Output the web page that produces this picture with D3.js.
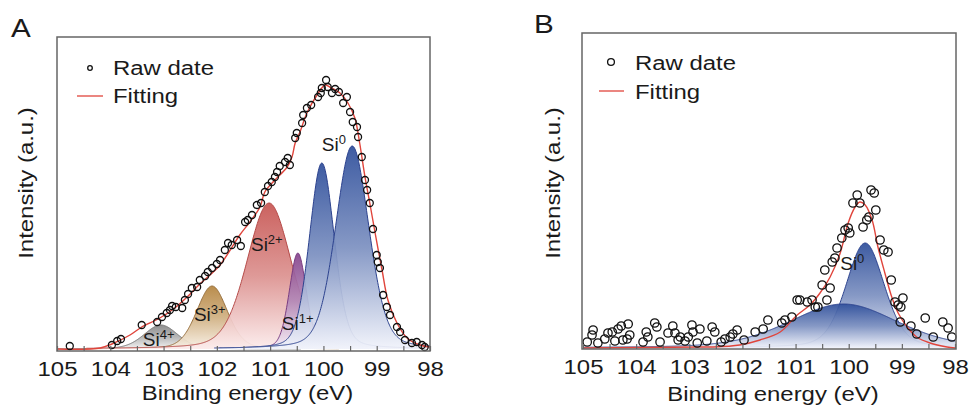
<!DOCTYPE html>
<html>
<head>
<meta charset="utf-8">
<title>Si 2p XPS fitting</title>
<style>
  body { margin: 0; background: #fff; }
  svg { display: block; font-family: Arial, "Liberation Sans", sans-serif; }
  .frame { fill: none; stroke: #666; stroke-width: 1.5; }
  .axis path { display: none; }
  .axis line { stroke: #666; stroke-width: 1.2; }
  .axis text { font-size: 21px; fill: #1a1a1a; }
  .raw { fill: none; stroke: #111; stroke-width: 1.3; }
  .fit { fill: none; stroke: #e0453c; stroke-width: 1.4; }
  .lbl { fill: #1a1a1a; }
</style>
</head>
<body>
<svg width="971" height="414"></svg>
<script src="https://d3js.org/d3.v7.min.js"></script>
<script>

// ---- panel A : raw points [binding energy eV, intensity a.u.]
var rawA = [
  [104.76,3],[103.97,4],[103.87,8],[103.80,10],[103.41,24],[103.12,27],[103.03,32],[102.94,36],
  [102.88,39],[102.84,43],[102.77,42],[102.65,41],[102.60,49],[102.54,55],[102.47,61],[102.37,62],
  [102.32,69],[102.22,73],[102.17,77],[102.09,81],[102.00,85],[101.94,89],[101.85,99],[101.79,106],
  [101.72,104],[101.62,109],[101.55,103],[101.47,127],[101.42,129],[101.34,134],[101.25,144],[101.17,146],
  [101.10,157],[101.04,163],[100.97,167],[100.91,172],[100.87,177],[100.82,183],[100.72,187],[100.67,191],
  [100.63,184],[100.53,211],[100.50,216],[100.40,226],[100.38,234],[100.31,241],[100.23,244],[100.10,252],
  [100.05,256],[100.03,261],[99.95,269],[99.92,262],[99.84,256],[99.78,260],[99.71,257],[99.63,246],
  [99.56,252],[99.50,237],[99.45,227],[99.37,222],[99.35,212],[99.28,192],[99.22,169],[99.18,159],
  [99.13,146],[99.07,120],[99.00,94],[98.98,87],[98.94,81],[98.88,54],[98.81,42],[98.75,34],
  [98.62,22],[98.56,17],[98.47,9],[98.34,6],[98.25,7],[98.15,4],[98.10,2]
];

// panel A : fitting envelope
var fitA = [
  [105,0],[104.19,1],[103.97,5],[103.63,14],[103.41,22],[103.07,31],[102.79,41],[102.50,55],
  [102.32,65],[102.13,74],[101.94,84],[101.75,99],[101.57,114],[101.38,127],[101.19,142],[101.10,157],
  [100.91,169],[100.68,182],[100.59,192],[100.53,206],[100.44,217],[100.31,236],[100.12,254],[99.97,264],
  [99.88,262],[99.69,256],[99.54,246],[99.41,231],[99.32,206],[99.22,172],[99.13,146],[99.03,116],
  [98.90,79],[98.79,49],[98.62,26],[98.43,11],[98.19,4],[98.00,2]
];

// panel A : fitted components
var peaksA_name   = ["Si4+", "Si3+", "Si2+", "Si1+", "Si0", "Si0"];
var peaksA_center = [103.05, 102.09, 101.02, 100.48, 100.03, 99.46];
var peaksA_height = [24, 63, 146, 96, 186, 203];
var peaksA_fwhm   = [0.75, 0.68, 0.98, 0.38, 0.55, 0.74];

// panel A : component labels [eV, intensity]
var labelsA_text = ["Si4+", "Si3+", "Si2+", "Si1+", "Si0"];
var labelsA_at   = [[103.39,3], [102.43,28], [101.36,98], [100.78,19], [100.03,198]];

// ---- panel B
var rawB = [
  [104.92,6],[104.83,13],[104.81,18],[104.72,5],[104.59,9],[104.53,15],[104.45,16],[104.40,7],
  [104.34,19],[104.28,22],[104.25,8],[104.17,9],[104.15,24],[104.12,13],[103.87,6],[103.81,16],
  [103.78,11],[103.65,25],[103.61,21],[103.55,6],[103.40,15],[103.31,22],[103.27,15],[103.21,8],
  [103.17,11],[103.08,7],[103.02,11],[102.95,23],[102.93,16],[102.85,5],[102.80,19],[102.67,7],
  [102.57,21],[102.52,16],[102.40,6],[102.33,9],[102.23,11],[102.18,14],[102.10,18],[101.97,8],
  [101.76,16],[101.61,19],[101.52,28],[101.26,25],[101.20,28],[101.07,31],[100.97,48],[100.92,48],
  [100.78,46],[100.69,48],[100.63,41],[100.58,41],[100.50,63],[100.45,78],[100.41,48],[100.35,60],
  [100.31,86],[100.26,90],[100.22,100],[100.13,110],[100.07,118],[100.01,120],[99.98,115],[99.92,145],
  [99.84,153],[99.79,145],[99.73,121],[99.66,128],[99.62,131],[99.58,158],[99.52,155],[99.49,138],
  [99.41,108],[99.34,98],[99.26,96],[99.20,68],[99.13,46],[99.07,43],[99.03,26],[99.02,41],
  [98.98,50],[98.83,22],[98.72,14],[98.56,30],[98.41,11],[98.23,26],[98.13,20],[98.06,11]
];

var fitB = [
  [105,0],[102.80,1],[102.55,1],[102.05,3],[101.67,8],[101.29,16],[100.97,33],[100.73,43],
  [100.54,55],[100.35,71],[100.16,95],[100.01,125],[99.88,141],[99.79,146],[99.69,143],[99.56,128],
  [99.45,101],[99.32,75],[99.19,51],[99.07,35],[98.90,21],[98.72,11],[98.47,5],[98.15,1],[98.00,0]
];

var peaksB_name   = ["Si0", "Si0"];
var peaksB_center = [99.69, 100.1];
var peaksB_height = [105, 44];
var peaksB_fwhm   = [0.85, 2.4];

var labelsB_text = ["Si0"];
var labelsB_at   = [[100.16,78]];

var majorTicks = d3.range(98, 105.01, 1);
var minorTicks = d3.range(98.5, 105, 1);

// ---------------------------------------------------------------
var svg = d3.select("svg");
var defs = svg.append("defs");
var WIDE = "scale(1.14,1)";   // the lettering in the figure runs a bit wide

var tone = {
  "Si4+": { top: "#868686", bot: "#f3f3f3", line: "#777" },
  "Si3+": { top: "#b4843f", bot: "#f9f1e6", line: "#98703e" },
  "Si2+": { top: "#c75653", bot: "#fcecec", line: "#b44846" },
  "Si1+": { top: "#86448c", bot: "#f6eef7", line: "#7a3d82" },
  "Si0":  { top: "#2f4f9b", bot: "#f1f3fb", line: "#2c428e" }
};

// pseudo-Voigt peak shape
function peak(c, h, w, eta) {
  return function(e) {
    var t = (e - c) / w;
    return h * (eta / (1 + 4 * t * t) + (1 - eta) * Math.exp(-4 * Math.LN2 * t * t));
  };
}

function wideText(g, px, py, str, size, anchor, rot) {
  return g.append("text")
    .attr("transform", "translate(" + px + "," + py + ")" + (rot ? " rotate(-90)" : "") + " " + WIDE)
    .attr("font-size", size)
    .attr("text-anchor", anchor || "start")
    .attr("fill", "#1a1a1a")
    .text(str);
}

function drawPanel(o) {
  var x = d3.scaleLinear().domain([105, 98]).range(o.xr);
  var y = d3.scaleLinear().domain([0, o.ymax]).range(o.yr);
  var g = svg.append("g");

  // components
  o.names.forEach(function(n, i) {
    var f = peak(o.centers[i], o.heights[i], o.fwhm[i], o.eta);
    var lo = Math.max(98, o.centers[i] - 3.5 * o.fwhm[i]);
    var hi = Math.min(105, o.centers[i] + 3.5 * o.fwhm[i]);
    var pts = d3.range(lo, hi + 0.0001, 0.01).map(function(e) { return [e, f(e)]; });
    var id = "grad" + o.id + i;
    var lg = defs.append("linearGradient").attr("id", id)
      .attr("x1", 0).attr("y1", 0).attr("x2", 0).attr("y2", 1);
    lg.append("stop").attr("offset", "0%").attr("stop-color", tone[n].top);
    lg.append("stop").attr("offset", "50%").attr("stop-color", d3.interpolateRgb(tone[n].top, tone[n].bot)(0.4));
    lg.append("stop").attr("offset", "100%").attr("stop-color", tone[n].bot);

    g.append("path").datum(pts)
      .attr("d", d3.area().x(function(d) { return x(d[0]); }).y0(y(0)).y1(function(d) { return y(d[1]); }))
      .attr("fill", "url(#" + id + ")")
      .attr("fill-opacity", 0.93);
    g.append("path").datum(pts)
      .attr("d", d3.line().x(function(d) { return x(d[0]); }).y(function(d) { return y(d[1]); }))
      .attr("fill", "none")
      .attr("stroke", tone[n].line)
      .attr("stroke-width", 1);
  });

  // labels
  o.labels.forEach(function(s, i) {
    var t = g.append("text").attr("class", "lbl")
      .attr("x", x(o.labelAt[i][0])).attr("y", y(o.labelAt[i][1]))
      .attr("font-size", 19);
    t.append("tspan").text("Si");
    t.append("tspan").attr("font-size", 13).attr("dy", -7).text(s.slice(2));
  });

  // fitting envelope
  g.append("path").datum(o.fit).attr("class", "fit")
    .attr("d", d3.line().curve(d3.curveCatmullRom.alpha(0.5))
      .x(function(d) { return x(d[0]); }).y(function(d) { return y(d[1]); }));

  // raw data
  g.selectAll("circle.raw").data(o.raw).enter().append("circle")
    .attr("class", "raw")
    .attr("cx", function(d) { return x(d[0]); })
    .attr("cy", function(d) { return y(d[1]); })
    .attr("r", o.r);

  // frame + axis
  var fr = o.frame;
  g.append("rect").attr("class", "frame")
    .attr("x", fr[0]).attr("y", fr[1]).attr("width", fr[2] - fr[0]).attr("height", fr[3] - fr[1]);

  g.append("g").attr("class", "axis")
    .attr("transform", "translate(0," + fr[3] + ")")
    .call(d3.axisBottom(x).tickValues(majorTicks)
      .tickSizeInner(-5).tickSizeOuter(0).tickPadding(10).tickFormat(d3.format("d")))
    .selectAll("text").attr("transform", WIDE);

  g.append("g").attr("class", "axis")
    .attr("transform", "translate(0," + fr[3] + ")")
    .call(d3.axisBottom(x).tickValues(minorTicks).tickSizeInner(-5).tickSizeOuter(0))
    .selectAll("text").remove();

  // titles
  wideText(g, (fr[0] + fr[2]) / 2 + 4, o.titleY, "Binding energy (eV)", 21, "middle");
  wideText(g, o.ylabX, 183, "Intensity (a.u.)", 21, "middle", true);
  wideText(g, o.letter[1], o.letter[2], o.letter[0], 26, "start");

  // legend
  var L = o.legend;
  g.append("circle").attr("class", "raw").attr("cx", L.cx).attr("cy", L.cy).attr("r", L.r);
  wideText(g, L.tx, L.y1, "Raw date", 21);
  g.append("line").attr("x1", L.l0).attr("x2", L.l1).attr("y1", L.ly).attr("y2", L.ly)
    .attr("stroke", "#e0453c").attr("stroke-width", 1.3);
  wideText(g, L.tx, L.y2, "Fitting", 21);
}

drawPanel({
  id: "A", xr: [57, 430], yr: [349, 37], ymax: 312,
  frame: [57, 37, 430, 351], r: 3.5, eta: 0.25,
  names: peaksA_name, centers: peaksA_center, heights: peaksA_height, fwhm: peaksA_fwhm,
  labels: labelsA_text, labelAt: labelsA_at,
  raw: rawA, fit: fitA,
  titleY: 400, ylabX: 33, letter: ["A", 11, 37],
  legend: { cx: 90, cy: 68, r: 2.3, tx: 113, y1: 75, y2: 103, l0: 77, l1: 103, ly: 96 }
});

drawPanel({
  id: "B", xr: [583, 955], yr: [348, 33], ymax: 315,
  frame: [582, 33, 956, 349], r: 4.2, eta: 0.3,
  names: peaksB_name, centers: peaksB_center, heights: peaksB_height, fwhm: peaksB_fwhm,
  labels: labelsB_text, labelAt: labelsB_at,
  raw: rawB, fit: fitB,
  titleY: 401, ylabX: 560, letter: ["B", 534, 33],
  legend: { cx: 611, cy: 62, r: 3.4, tx: 635, y1: 70, y2: 99, l0: 599, l1: 624, ly: 91 }
});

</script>
</body>
</html>
